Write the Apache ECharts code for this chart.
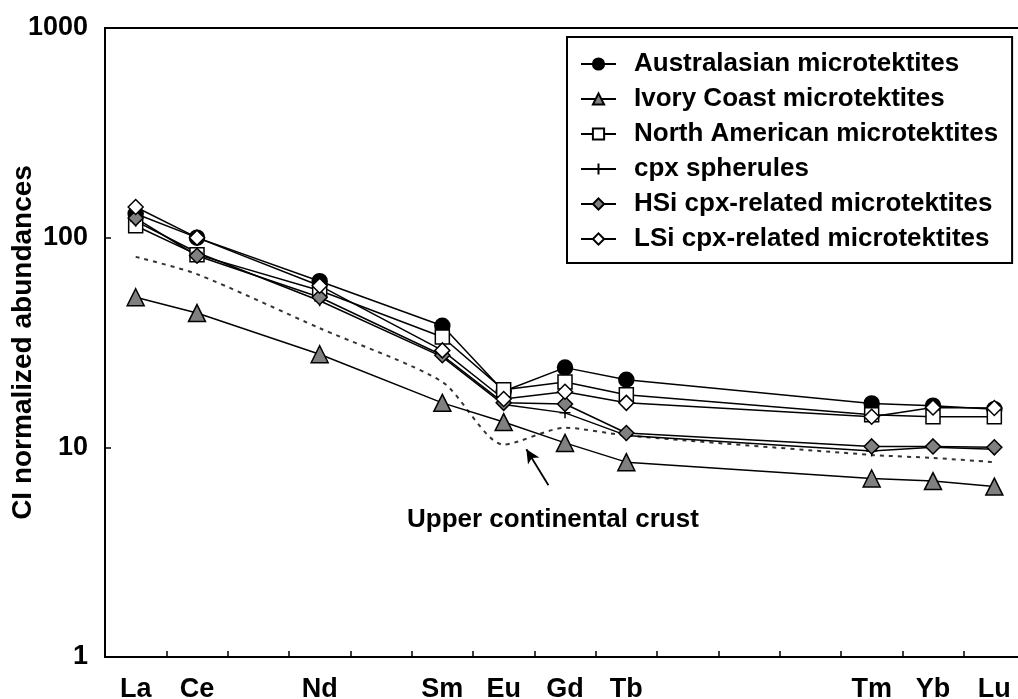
<!DOCTYPE html>
<html>
<head>
<meta charset="utf-8">
<script src="https://cdn.jsdelivr.net/npm/echarts@6/dist/echarts.min.js"></script>
<style>
  html, body { margin: 0; padding: 0; background: #fff; }
  #chart { width: 1018px; height: 699px; }
</style>
</head>
<body>
<div id="chart"></div>
<script>
// REE on x, placed by atomic number
const elements = ['La', 'Ce', 'Nd', 'Sm', 'Eu', 'Gd', 'Tb', 'Tm', 'Yb', 'Lu'];
const atomicNumbers = [57, 58, 60, 62, 63, 64, 65, 69, 70, 71];
const tickPositions = [57.5, 58.5, 59.5, 60.5, 61.5, 62.5, 63.5, 64.5, 65.5, 66.5, 67.5, 68.5, 69.5, 70.5];
const yTicks = [1, 10, 100, 1000];

// CI normalized abundances
const australasian = [130, 100, 62, 38, 18.5, 24, 21, 16.2, 15.8, 15.2];
const ivoryCoast = [52, 43.7, 27.8, 16.3, 13.2, 10.5, 8.5, 7.1, 6.9, 6.5];
const northAmerican = [114, 83, 56, 33.6, 18.8, 20.5, 17.8, 14.3, 14.0, 14.0];
const cpxSpherules = [120, 85, 50, 27, 16, 14.6, 11.4, 9.6, 10, 9.8];
const hsiCpx = [124, 82, 52, 27.5, 16.3, 16.1, 11.7, 10.1, 10.1, 10.0];
const lsiCpx = [140, 100, 59, 29, 17, 18.4, 16.3, 14.0, 15.5, 15.4];
const upperCrust = [81, 67, 37, 20.5, 10.3, 12.4, 11.4, 9.2, 8.9, 8.5];

const seriesNames = [
  'Australasian microtektites',
  'Ivory Coast microtektites',
  'North American microtektites',
  'cpx spherules',
  'HSi cpx-related microtektites',
  'LSi cpx-related microtektites'
];

const FONT = '"Liberation Sans", Arial, sans-serif';
const GRAY = '#808080';

function pts(values) {
  return atomicNumbers.map((z, i) => [z, values[i]]);
}

function labelFor(v) {
  const i = atomicNumbers.indexOf(Math.round(v));
  return i >= 0 ? elements[i] : '';
}

function lineSeries(name, values, symbol, size, fill) {
  return {
    name: name,
    type: 'line',
    data: pts(values),
    symbol: symbol,
    symbolSize: size,
    showAllSymbol: true,
    lineStyle: {color: '#000', width: 1.5},
    itemStyle: {color: fill, borderColor: '#000', borderWidth: 1.5},
    emphasis: {disabled: true},
    z: 3
  };
}

const chart = echarts.init(document.getElementById('chart'));

chart.setOption({
  animation: false,
  backgroundColor: '#fff',
  grid: {
    left: 105, top: 28, bottom: 42, right: -7,
    outerBoundsMode: 'none',
    containLabel: false,
    show: true, borderColor: '#000', borderWidth: 2, backgroundColor: 'transparent'
  },
  legend: {
    data: seriesNames,
    orient: 'vertical',
    left: 567,
    top: 37,
    backgroundColor: '#fff',
    borderColor: '#000',
    borderWidth: 2,
    padding: [14, 14, 11, 13],
    itemWidth: 35,
    itemHeight: 14,
    itemGap: 9,
    textStyle: {
      fontFamily: FONT, fontWeight: 'bold', fontSize: 26, color: '#000',
      lineHeight: 26, padding: [0, 0, 0, 13]
    }
  },
  xAxis: {
    type: 'value',
    min: 56.5,
    max: 71.5,
    splitLine: {show: false},
    axisLine: {lineStyle: {color: '#000', width: 2}},
    axisTick: {show: true, inside: true, length: 6, customValues: tickPositions,
      lineStyle: {color: '#000', width: 1.5}},
    axisLabel: {
      customValues: atomicNumbers,
      formatter: labelFor,
      margin: 19,
      fontFamily: FONT, fontWeight: 'bold', fontSize: 27, color: '#000'
    }
  },
  yAxis: {
    type: 'log',
    logBase: 10,
    min: 1,
    max: 1000,
    name: 'CI normalized abundances',
    nameLocation: 'middle',
    nameGap: 68,
    nameMoveOverlap: false,
    nameTextStyle: {fontFamily: FONT, fontWeight: 'bold', fontSize: 28, color: '#000'},
    splitLine: {show: false},
    axisLine: {lineStyle: {color: '#000', width: 2}},
    axisTick: {inside: true, length: 6, customValues: yTicks, lineStyle: {color: '#000', width: 1.5}},
    minorTick: {show: false},
    axisLabel: {
      customValues: yTicks,
      formatter: v => String(Math.round(v)),
      margin: 17,
      fontFamily: FONT, fontWeight: 'bold', fontSize: 27, color: '#000'
    }
  },
  graphic: [{
    type: 'text',
    left: 407,
    top: 507,
    style: {
      text: 'Upper continental crust',
      font: 'bold 26px ' + FONT,
      fill: '#000'
    }
  }],
  series: [
    {
      name: 'Upper continental crust',
      type: 'line',
      data: pts(upperCrust),
      smooth: 0.25,
      symbol: 'none',
      lineStyle: {color: '#333', width: 2, type: [4, 5]},
      emphasis: {disabled: true},
      z: 2,
      markLine: {
        silent: true,
        symbol: ['none', 'arrow'],
        symbolSize: [10, 14],
        label: {show: false},
        lineStyle: {color: '#000', width: 1.8, type: 'solid'},
        data: [[{coord: [63.73, 6.6]}, {coord: [63.37, 9.8]}]]
      }
    },
    lineSeries(seriesNames[0], australasian, 'circle', 15, '#000'),
    lineSeries(seriesNames[1], ivoryCoast, 'triangle', 17, GRAY),
    lineSeries(seriesNames[2], northAmerican, 'rect', 14, '#fff'),
    lineSeries(seriesNames[3], cpxSpherules, 'path://M0,-1L0,1M-1,0L1,0', 11, 'none'),
    lineSeries(seriesNames[4], hsiCpx, 'diamond', 15, GRAY),
    lineSeries(seriesNames[5], lsiCpx, 'diamond', 15, '#fff')
  ]
});
</script>
</body>
</html>
